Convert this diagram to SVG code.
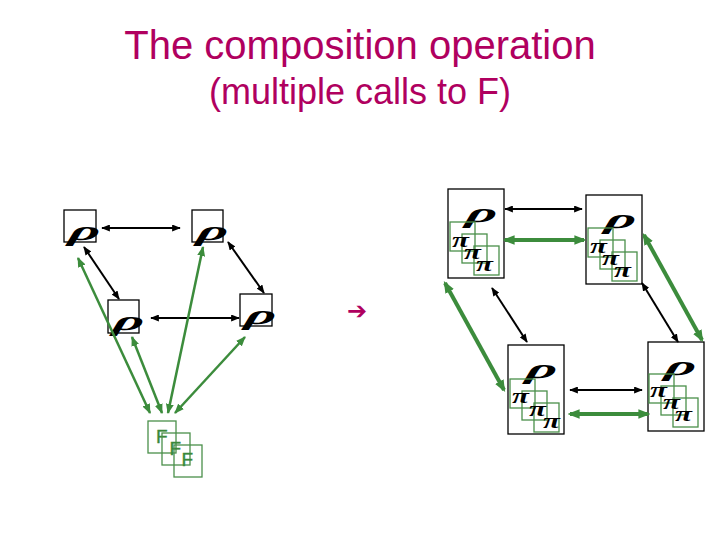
<svg xmlns="http://www.w3.org/2000/svg" width="720" height="540" viewBox="0 0 720 540">
<style>
.title{font-family:"Liberation Sans",Arial,sans-serif;fill:#b0005f;text-anchor:middle}
.box{fill:#fff;stroke:#000;stroke-width:1.3}
.sq{fill:none;stroke:#4a904a;stroke-width:1.3}
.rho{font-family:"Liberation Serif",serif;font-style:italic;font-weight:bold;font-size:31px;fill:#000}
.pi{font-family:"Liberation Serif",serif;font-style:italic;font-weight:bold;font-size:20px;fill:#000}
.F{font-family:"Liberation Sans",Arial,sans-serif;font-size:19px;fill:#3a883a;stroke:#3a883a;stroke-width:0.4}
.bk{stroke:#000;stroke-width:2;fill:none;marker-start:url(#hb);marker-end:url(#hb)}
.gm{stroke:#3c8c3c;stroke-width:2.5;fill:none;marker-start:url(#hg);marker-end:url(#hg)}
.gt{stroke:#3c8c3c;stroke-width:4;fill:none;marker-start:url(#ht);marker-end:url(#ht)}
</style>
<defs>
<marker id="hb" viewBox="0 0 10 8" refX="9" refY="4" markerWidth="9" markerHeight="7" markerUnits="userSpaceOnUse" orient="auto-start-reverse"><path d="M0,0 L10,4 L0,8 z" fill="#000"/></marker>
<marker id="hg" viewBox="0 0 10 8" refX="9" refY="4" markerWidth="10" markerHeight="8" markerUnits="userSpaceOnUse" orient="auto-start-reverse"><path d="M0,0 L10,4 L0,8 z" fill="#3c8c3c"/></marker>
<marker id="ht" viewBox="0 0 10 8" refX="8" refY="4" markerWidth="12" markerHeight="10" markerUnits="userSpaceOnUse" orient="auto-start-reverse"><path d="M0,0 L10,4 L0,8 z" fill="#3c8c3c"/></marker>
</defs>
<rect width="720" height="540" fill="#fff"/>
<text class="title" x="360" y="59" font-size="40">The composition operation</text>
<text class="title" x="360" y="104" font-size="36">(multiple calls to F)</text>
<text x="357" y="319" font-family="DejaVu Sans,sans-serif" font-size="24" font-weight="bold" fill="#b0005f" text-anchor="middle">➔</text>

<g id="rhoA"><rect class="box" x="64" y="210" width="32" height="32"/><text class="rho" transform="translate(68,240) skewX(-14) scale(1.9,0.9)">ρ</text></g>
<g id="rhoB"><rect class="box" x="192" y="210" width="31" height="32"/><text class="rho" transform="translate(196,240) skewX(-14) scale(1.9,0.9)">ρ</text></g>
<g id="rhoC"><rect class="box" x="108" y="300" width="31" height="33"/><text class="rho" transform="translate(112,330) skewX(-14) scale(1.9,0.9)">ρ</text></g>
<g id="rhoD"><rect class="box" x="240" y="294" width="32" height="32"/><text class="rho" transform="translate(244,324) skewX(-14) scale(1.9,0.9)">ρ</text></g>

<g id="Fstack">
<rect class="sq" x="148" y="421" width="28" height="32"/><text class="F" x="156" y="443">F</text>
<rect class="sq" x="162" y="433" width="28" height="32"/><text class="F" x="169.5" y="455">F</text>
<rect class="sq" x="174" y="445" width="28" height="32"/><text class="F" x="181.5" y="466">F</text>
</g>

<g id="R1">
<rect class="box" x="448" y="189" width="56" height="89"/>
<text class="rho" transform="translate(465,222) skewX(-14) scale(1.9,0.9)">ρ</text>
<rect class="sq" x="450" y="222" width="25" height="29"/>
<rect class="sq" x="462" y="234" width="25" height="29"/>
<rect class="sq" x="474" y="246" width="25" height="29"/>
<text class="pi" transform="translate(452,247) scale(1.55,1)">π</text>
<text class="pi" transform="translate(464,259) scale(1.55,1)">π</text>
<text class="pi" transform="translate(476,271) scale(1.55,1)">π</text>
</g>
<g id="R2">
<rect class="box" x="586" y="195" width="56" height="89"/>
<text class="rho" transform="translate(604,228) skewX(-14) scale(1.9,0.9)">ρ</text>
<rect class="sq" x="588" y="228" width="25" height="29"/>
<rect class="sq" x="600" y="240" width="25" height="29"/>
<rect class="sq" x="612" y="252" width="25" height="29"/>
<text class="pi" transform="translate(590,253) scale(1.55,1)">π</text>
<text class="pi" transform="translate(602,265) scale(1.55,1)">π</text>
<text class="pi" transform="translate(614,277) scale(1.55,1)">π</text>
</g>
<g id="R3">
<rect class="box" x="508" y="345" width="56" height="89"/>
<text class="rho" transform="translate(525,378) skewX(-14) scale(1.9,0.9)">ρ</text>
<rect class="sq" x="510" y="379" width="25" height="29"/>
<rect class="sq" x="522" y="391" width="25" height="29"/>
<rect class="sq" x="534" y="403" width="25" height="29"/>
<text class="pi" transform="translate(512,403) scale(1.55,1)">π</text>
<text class="pi" transform="translate(529,416) scale(1.55,1)">π</text>
<text class="pi" transform="translate(543,428) scale(1.55,1)">π</text>
</g>
<g id="R4">
<rect class="box" x="648" y="342" width="56" height="89"/>
<text class="rho" transform="translate(664,375) skewX(-14) scale(1.9,0.9)">ρ</text>
<rect class="sq" x="649" y="374" width="25" height="29"/>
<rect class="sq" x="661" y="386" width="25" height="29"/>
<rect class="sq" x="673" y="398" width="25" height="29"/>
<text class="pi" transform="translate(650,397) scale(1.55,1)">π</text>
<text class="pi" transform="translate(663,409) scale(1.55,1)">π</text>
<text class="pi" transform="translate(675,421) scale(1.55,1)">π</text>
</g>

<g id="connectors">
<line class="bk" x1="102" y1="228" x2="180" y2="228"/>
<line class="bk" x1="84" y1="247" x2="119" y2="299"/>
<line class="bk" x1="228" y1="242" x2="264" y2="293"/>
<line class="bk" x1="151" y1="318" x2="239" y2="318"/>
<line class="bk" x1="505" y1="209" x2="582" y2="209"/>
<line class="bk" x1="492" y1="288" x2="527" y2="342"/>
<line class="bk" x1="642" y1="283" x2="678" y2="342"/>
<line class="bk" x1="570" y1="390" x2="642" y2="390"/>
<line class="gm" x1="78" y1="258" x2="150" y2="413"/>
<line class="gm" x1="132" y1="337" x2="162" y2="413"/>
<line class="gm" x1="203" y1="247" x2="168" y2="413"/>
<line class="gm" x1="245" y1="337" x2="175" y2="413"/>
<line class="gt" x1="505" y1="240" x2="584" y2="240"/>
<line class="gt" x1="445" y1="283" x2="504" y2="390"/>
<line class="gt" x1="644" y1="235" x2="702" y2="340"/>
<line class="gt" x1="570" y1="414" x2="648" y2="414"/>
</g>
</svg>
